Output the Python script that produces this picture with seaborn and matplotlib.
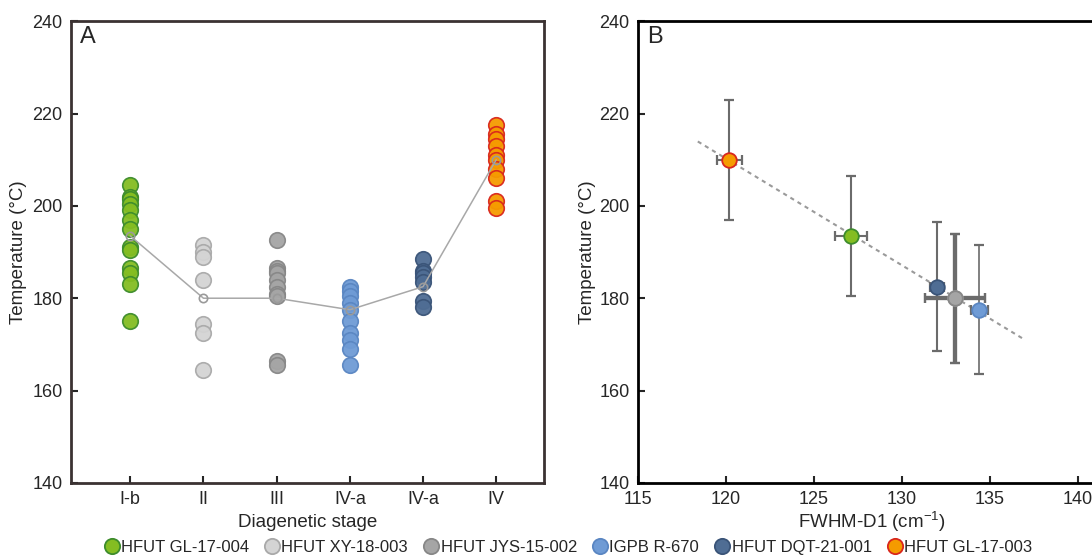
import seaborn as sns
import numpy as np
import pandas as pd
import matplotlib.pyplot as plt
from matplotlib.lines import Line2D

# samples, in stage order
samples = ['HFUT GL-17-004', 'HFUT XY-18-003', 'HFUT JYS-15-002',
           'IGPB R-670', 'HFUT DQT-21-001', 'HFUT GL-17-003']
stages = ['I-b', 'II', 'III', 'IV-a', 'IV-a', 'IV']

# individual temperature estimates (panel A)
green_temp = [204.5, 202.0, 201.5, 200.5, 199.0, 197.0, 195.0, 191.0, 190.5, 186.5, 185.5, 183.0, 175.0]
lgray_temp = [191.5, 190.0, 189.0, 184.0, 174.5, 172.5, 164.5]
gray_temp = [192.5, 186.5, 186.0, 185.5, 184.0, 182.5, 181.0, 180.5, 166.5, 165.5]
blue_temp = [182.5, 181.5, 180.5, 179.0, 177.5, 175.0, 172.5, 171.0, 169.0, 165.5]
dblue_temp = [188.5, 186.0, 185.5, 184.5, 183.5, 179.5, 178.0]
orange_temp = [217.5, 215.5, 214.5, 213.0, 211.0, 210.0, 208.0, 206.0, 201.0, 199.5]
temps = [green_temp, lgray_temp, gray_temp, blue_temp, dblue_temp, orange_temp]

# sample means (line in A, points in B)
mean_temp = [193.5, 180.0, 180.0, 177.5, 182.5, 210.0]
temp_err = [13.0, 14.0, 14.0, 14.0, 14.0, 13.0]
fwhm = [127.1, 133.0, 133.0, 134.4, 132.0, 120.2]
fwhm_err = [0.9, 1.7, 1.7, 0.5, 0.4, 0.7]

face_colors = ['#84bd22', '#d4d4d4', '#a5a5a5', '#6f9bd5', '#4f6d94', '#f59b00']
edge_colors = ['#3d8c2c', '#a9a9a9', '#878787', '#5a86c2', '#3a5478', '#d9261c']
bar_widths = [1.5, 3.0, 3.0, 1.2, 1.5, 1.5]

sns.set_style('white')
plt.rcParams['font.family'] = ['Liberation Sans', 'DejaVu Sans']

fig = plt.figure(figsize=(10.92, 5.57), dpi=100)
axA = fig.add_axes([0.065, 0.133, 0.433, 0.829])
axB = fig.add_axes([0.5842, 0.133, 0.4835, 0.829])

# ---------- panel A ----------
rows = []
for i, (s, t) in enumerate(zip(samples, temps)):
    for v in t:
        rows.append({'sample': s, 'pos': i, 'temp': v})
df = pd.DataFrame(rows)

for s, fc, ec in zip(samples, face_colors, edge_colors):
    sns.scatterplot(data=df[df['sample'] == s], x='pos', y='temp', color=fc,
                    edgecolor=ec, linewidth=1.2, s=125, alpha=0.95,
                    legend=False, ax=axA, zorder=2)

axA.plot(range(len(mean_temp)), mean_temp, color='#a8a8a8', lw=1.1,
         marker='o', ms=6, mfc='none', mec='#9a9a9a', mew=1.2, zorder=3)

axA.set_xlim(-0.81, 5.65)
axA.set_ylim(140, 240)
axA.set_yticks(range(140, 241, 20))
axA.set_xticks(range(len(stages)))
axA.set_xticklabels(stages)
axA.set_xlabel('Diagenetic stage', fontsize=13.5, va='center')
axA.set_ylabel('Temperature (°C)', fontsize=13.5, va='center')
axA.text(0.018, 0.99, 'A', transform=axA.transAxes, fontsize=17, va='top')
for sp in axA.spines.values():
    sp.set_color('#3b3232')
    sp.set_linewidth(2)

# ---------- panel B ----------
for x, y, xe, ye, lw in zip(fwhm, mean_temp, fwhm_err, temp_err, bar_widths):
    axB.errorbar(x, y, xerr=xe, yerr=ye, fmt='none', ecolor='#6b6b6b',
                 elinewidth=lw, capsize=3.5, capthick=1.6, zorder=2)

coef = np.polyfit(fwhm, mean_temp, 1)
xfit = np.linspace(min(fwhm) - 1.8, max(fwhm) + 2.5, 50)
axB.plot(xfit, np.polyval(coef, xfit), color='#9a9a9a', lw=1.5,
         ls=(0, (2, 2)), zorder=1)

dfB = pd.DataFrame({'sample': samples, 'fwhm': fwhm, 'temp': mean_temp})
for s, fc, ec in zip(samples, face_colors, edge_colors):
    sns.scatterplot(data=dfB[dfB['sample'] == s], x='fwhm', y='temp', color=fc,
                    edgecolor=ec, linewidth=1.3, s=110, legend=False,
                    ax=axB, zorder=3)

axB.set_xlim(115, 145)
axB.set_ylim(140, 240)
axB.set_yticks(range(140, 241, 20))
axB.set_xticks(range(115, 146, 5))
axB.set_xlabel('FWHM-D1 (cm$\\mathregular{^{-1}}$)', fontsize=13.5, va='center')
axB.set_ylabel('Temperature (°C)', fontsize=13.5, va='center')
axB.text(0.018, 0.99, 'B', transform=axB.transAxes, fontsize=17, va='top')
for sp in axB.spines.values():
    sp.set_color('black')
    sp.set_linewidth(2)

for ax in (axA, axB):
    ax.tick_params(direction='in', length=5, width=1.5, labelsize=13, pad=6,
                   left=True, bottom=True, top=False, right=False)

# label positions (axes fraction)
axA.xaxis.set_label_coords(0.5, -0.085)
axA.yaxis.set_label_coords(-0.110, 0.5)
axB.xaxis.set_label_coords(0.5 * 26.0 / 30.0 + 0.01, -0.085)
axB.yaxis.set_label_coords(-0.095, 0.5)

# ---------- legend ----------
handles = [Line2D([], [], marker='o', ls='none', ms=11, mfc=fc, mec=ec, mew=1.3)
           for fc, ec in zip(face_colors, edge_colors)]
fig.legend(handles, samples, loc='center', bbox_to_anchor=(0.52, 0.017),
           ncol=6, frameon=False, fontsize=12, handletextpad=0.05,
           columnspacing=0.9, handlelength=1.0, borderpad=0)

fig.savefig('out.png', dpi=100)
